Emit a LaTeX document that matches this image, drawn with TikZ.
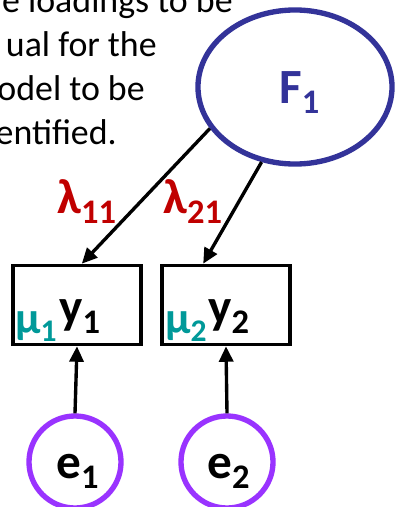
\documentclass[tikz,border=0pt]{standalone}
\usepackage{fontspec}
\setmainfont{Carlito}
\usepackage{tikz}
\usetikzlibrary{arrows.meta,positioning,shapes.geometric}
\definecolor{latblue}{HTML}{333399}
\definecolor{lamred}{HTML}{C00000}
\definecolor{muteal}{HTML}{009999}
\definecolor{errpurple}{HTML}{9933FF}

\begin{document}
\begin{tikzpicture}[x=0.025cm, y=-0.025cm, >={Triangle[length=11pt,width=10pt]},
  latent/.style={draw=latblue, line width=3.8pt, ellipse, minimum width=4.85cm, minimum height=3.85cm, inner sep=0pt},
  obsbox/.style={draw, line width=2.4pt, minimum width=3.2cm, minimum height=1.98cm, inner sep=0pt},
  err/.style={draw=errpurple, line width=3.8pt, circle, minimum size=2.3cm, inner sep=0pt},
  txt/.style={font=\fontsize{25.5}{30}\selectfont, anchor=base east, inner sep=0pt},
  lab/.style={font=\bfseries\fontsize{35}{40}\selectfont, inner sep=0pt},
  load/.style={lab, text=lamred, anchor=base west},
  mean/.style={lab, font=\bfseries\fontsize{32}{36}\selectfont, text=muteal, anchor=base west},
  arr/.style={->, line width=2.4pt}]
\useasboundingbox (0,0) rectangle (397,507);
% note on identification (cut at the left)
\node[txt] (txta) at (233,12) {e loadings to be};
\node[txt] (txtb) at (157,56) {ual for the};
\node[txt] (txtc) at (145,100) {odel to be};
\node[txt] (txtd) at (117,144) {entified.};
% factor
\node[latent] (F1) at (295,87) {};
\node[lab, text=latblue, anchor=base west] (F1t) at (279,103) {F\textsubscript{1}};
% indicators
\node[obsbox] (Y1) at (77,305) {};
\node[obsbox] (Y2) at (226,305) {};
\node[lab, anchor=base west] (Y1t) at (59,323) {y\textsubscript{1}};
\node[lab, anchor=base west] (Y2t) at (208,323) {y\textsubscript{2}};
\node[mean] (M1) at (15,333) {μ\textsubscript{1}};
\node[mean] (M2) at (165,333) {μ\textsubscript{2}};
% errors
\node[err] (E1) at (75,462) {};
\node[err] (E2) at (227,462) {};
\node[lab, anchor=base west] (E1t) at (56,478) {e\textsubscript{1}};
\node[lab, anchor=base west] (E2t) at (207,478) {e\textsubscript{2}};
% loadings
\draw[arr] (F1.206) -- ([xshift=0.12cm]Y1.north);
\draw[arr] (F1.246) -- ([xshift=-0.57cm]Y2.north);
\node[load] (L11) at (57,213) {λ\textsubscript{11}};
\node[load] (L21) at (163,213) {λ\textsubscript{21}};
% residuals
\draw[arr] (E1.north) -- (Y1.south);
\draw[arr] (E2.north) -- (Y2.south);
\end{tikzpicture}
\end{document}
